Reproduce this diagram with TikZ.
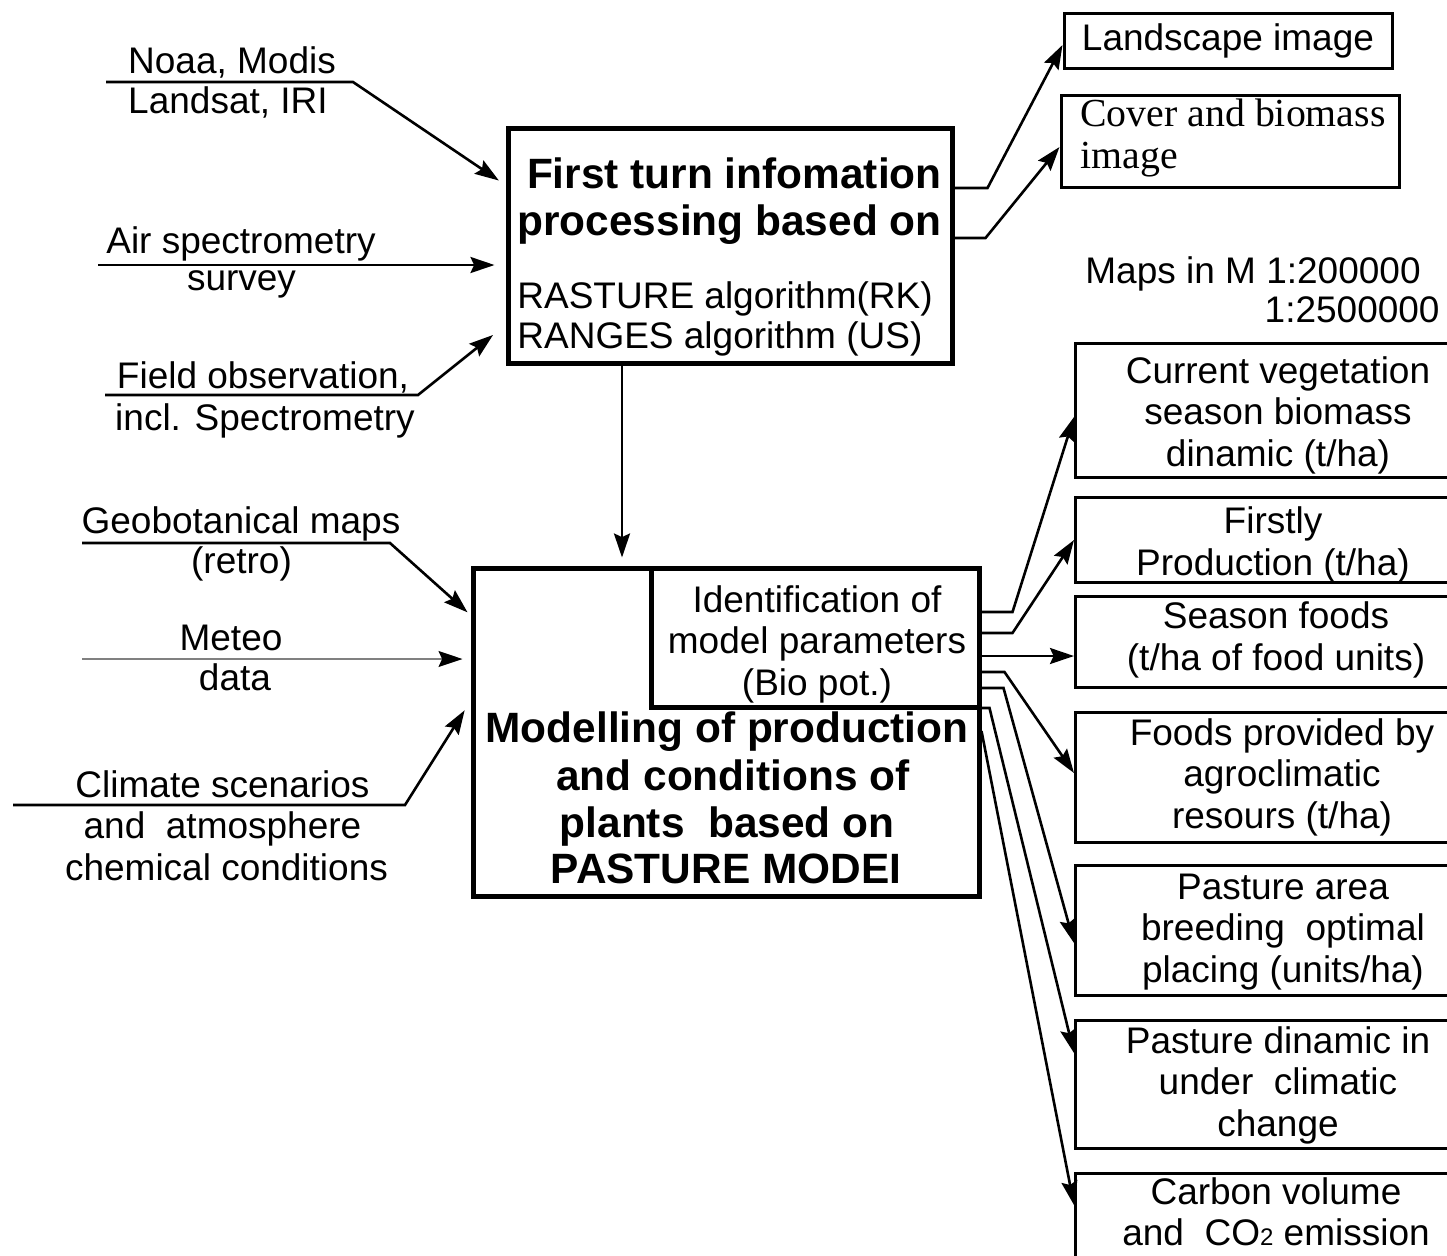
\documentclass[tikz,border=0pt]{standalone}
\usepackage{fontspec}
\setmainfont{Liberation Sans}
\newfontfamily\tmsfam{Liberation Serif}
\usetikzlibrary{arrows.meta,calc}
\newcommand\myreg{\fontsize{18.5pt}{20.75pt}\selectfont}
\newcommand\mybold{\fontsize{21.2pt}{23.5pt}\selectfont\bfseries}
\newcommand\mytms{\tmsfam\fontsize{19.9pt}{21pt}\selectfont}
\begin{document}
\begin{tikzpicture}[x=0.5pt,y=-0.5pt,
  thickbox/.style={draw, line width=2.5pt, inner sep=0pt},
  thinbox/.style={draw, line width=1.5pt, inner sep=0pt, align=center, font=\myreg},
  rbox/.style={thinbox, minimum width=202.5pt},
  lbl/.style={inner sep=0pt, anchor=base, font=\myreg},
  btxt/.style={inner sep=0pt, anchor=center, align=center, font=\myreg},
  ttl/.style={inner sep=0pt, anchor=base, font=\mybold},
  tms/.style={inner sep=0pt, anchor=base west, font=\mytms},
  arr/.style={line width=1.3pt, -{Stealth[length=12pt,width=8pt,inset=1.8pt]}},
  thinarr/.style={draw=gray, line width=0.7pt, -{Stealth[length=12pt,width=8pt,inset=1.8pt,color=black]}}
]
\useasboundingbox (0,0) rectangle (1447,1255);
\clip (0,0) rectangle (1447,1255);
\fill[white] (0,0) rectangle (1447,1255);

% ---- main boxes
\node[thickbox, minimum width=222pt, minimum height=117.5pt] (first) at (730,245.5) {};
\node[thickbox, minimum width=253pt, minimum height=164pt] (model) at (726,732) {};
\node[thickbox, fill=white, minimum width=164pt, minimum height=69.5pt] (ident) at (815,637.5) {};
\node[btxt] (identtxt) at (817,644) {Identification of\\model parameters\\(Bio pot.)};

\node[ttl, anchor=base east] (t1a) at (942,188) {First turn infomation};
\node[ttl, anchor=base east] (t1b) at (942,235) {processing based on};
\node[lbl, anchor=base west] (t1c) at (517,308) {RASTURE algorithm(RK)};
\node[lbl, anchor=base west] (t1d) at (517,348) {RANGES algorithm (US)};

\node[ttl] (t2a) at (727,742) {Modelling of production};
\node[ttl] (t2b) at (733,790) {and conditions of};
\node[ttl] (t2c) at (727,837) {plants\ \ based on};
\node[ttl] (t2d) at (726,883) {PASTURE MODEI};

% ---- right upper
\node[thinbox, minimum width=164pt, minimum height=27.5pt] (land) at (1228,40.5) {Landscape image};
\node[thinbox, minimum width=169pt, minimum height=46pt] (cover) at (1230,141) {};
\node[tms] (cov1) at (1080,126) {Cover and biomass};
\node[tms] (cov2) at (1080,168) {image};
\node[lbl, anchor=base west] (maps1) at (1085,283) {Maps in M 1:200000};
\node[lbl, anchor=base east] (maps2) at (1440,322) {1:2500000};

% ---- right boxes
\node[rbox, minimum height=67pt] (curveg) at (1278,410) {};
\node[btxt] (curvegtxt) at (1278,415) {Current vegetation\\season biomass\\dinamic (t/ha)};
\node[rbox, minimum height=42.5pt] (firstly) at (1278,539.5) {};
\node[btxt] (firstlytxt) at (1273,545) {Firstly\\Production (t/ha)};
\node[rbox, minimum height=45.5pt] (season) at (1278,641.5) {};
\node[btxt] (seasontxt) at (1276,640) {Season foods\\(t/ha of food units)};
\node[rbox, minimum height=65pt] (foods) at (1278,777) {};
\node[btxt] (foodstxt) at (1282,777) {Foods provided by\\agroclimatic\\resours (t/ha)};
\node[rbox, minimum height=65pt] (parea) at (1278,930) {};
\node[btxt] (pareatxt) at (1283,932) {Pasture area\\breeding\ \ optimal\\placing (units/ha)};
\node[rbox, minimum height=64pt] (pdyn) at (1278,1084) {};
\node[btxt] (pdyntxt) at (1278,1085) {Pasture dinamic in\\under\ \ climatic\\change};
\node[rbox, minimum height=44.5pt] (carbon) at (1278,1217.5) {};
\node[btxt] (carbontxt) at (1276,1212) {Carbon volume\\and\ \ CO{\fontsize{12pt}{12pt}\selectfont 2} emission};

% ---- left labels
\node[lbl] (l1a) at (232,73) {Noaa, Modis};
\node[lbl] (l1b) at (228,113) {Landsat, IRI};
\node[lbl] (l2a) at (241,253) {Air spectrometry};
\node[lbl] (l2b) at (241.5,290) {survey};
\node[lbl] (l3a) at (263,388) {Field observation,};
\node[lbl] (l3b) at (265,430) {incl. Spectrometry};
\node[lbl] (l4a) at (241,533) {Geobotanical maps};
\node[lbl] (l4b) at (241.5,573) {(retro)};
\node[lbl] (l5a) at (231,650) {Meteo};
\node[lbl] (l5b) at (235,690) {data};
\node[lbl] (l6a) at (222.5,797) {Climate scenarios};
\node[lbl] (l6b) at (222.5,838) {and\ \ atmosphere};
\node[lbl] (l6c) at (226.5,880) {chemical conditions};

% ---- input connectors
\coordinate (noaaS) at (106,82);
\draw[arr, shorten >=4pt] (noaaS) -- ++(247,0) -- (first.west |- 0,185);
\coordinate (airS) at (98,265);
\draw[arr, shorten >=5.5pt] (airS) -- (first.west |- 0,265);
\coordinate (fieldS) at (105,395);
\draw[arr, shorten >=8pt] (fieldS) -- ++(313,0) -- (first.west |- 0,325);
\coordinate (geoS) at (82,543);
\draw[arr, shorten >=2pt] (geoS) -- ++(308,0) -- (model.west |- 0,615);
\coordinate (meteoS) at (82,659);
\draw[thinarr, shorten >=4pt] (meteoS) -- (model.west |- 0,659);
\coordinate (climS) at (13,805);
\draw[arr, shorten >=5.5pt] (climS) -- ++(392,0) -- (model.west |- 0,701);

% ---- internal
\draw[arr, shorten >=4pt] (first.south -| 622,0) -- (model.north -| 622,0);

% ---- outputs
\draw[arr] (first.east |- 0,188) -- ++(33,0) -- (land.west |- 0,45);
\draw[arr] (first.east |- 0,238) -- ++(31,0) -- (cover.west |- 0,147);

\draw[arr] (ident.east |- 0,612) -- ++(31,0) -- (curveg.west |- 0,417);
\draw[arr] (ident.east |- 0,633) -- ++(31,0) -- (firstly.west |- 0,540);
\draw[arr] (ident.east |- 0,656) -- (season.west |- 0,656);
\draw[arr] (ident.east |- 0,672) -- ++(23,0) -- (foods.west |- 0,773);
\draw[arr] (ident.east |- 0,688) -- ++(22,0) -- (parea.west |- 0,943);
\draw[arr] (model.east |- 0,708) -- ++(8,0) -- (pdyn.west |- 0,1053);
\draw[arr] (model.east |- 0,731) -- (carbon.west |- 0,1205);
\end{tikzpicture}
\end{document}
